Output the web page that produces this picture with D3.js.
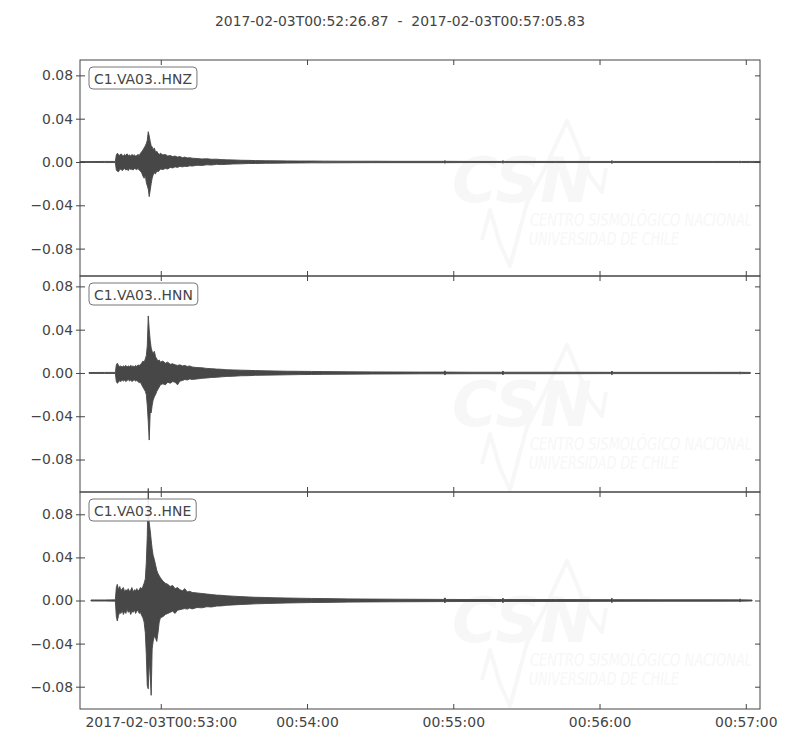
<!DOCTYPE html>
<html><head><meta charset="utf-8">
<script src="https://cdn.jsdelivr.net/npm/d3@7"></script>
<style>body{margin:0;background:#fff} svg{display:block}</style>
</head><body><svg id="c" width="800" height="750"></svg>
<script>
// ---------------- data ----------------
const titleText = "2017-02-03T00:52:26.87  -  2017-02-03T00:57:05.83";
const startTime = "2017-02-03T00:52:26.870Z";
const endTime = "2017-02-03T00:57:05.830Z";
const channels = ["C1.VA03..HNZ", "C1.VA03..HNN", "C1.VA03..HNE"];
const yLimits = [[-0.1053, 0.0942], [-0.110, 0.0896], [-0.1007, 0.1007]];
const yTickValues = [-0.08, -0.04, 0, 0.04, 0.08];
const yTickLabels = ["\u22120.08", "\u22120.04", "0.00", "0.04", "0.08"];
const xTickTimes = ["2017-02-03T00:53:00Z", "2017-02-03T00:54:00Z", "2017-02-03T00:55:00Z", "2017-02-03T00:56:00Z", "2017-02-03T00:57:00Z"];
const xTickLabels = ["2017-02-03T00:53:00", "00:54:00", "00:55:00", "00:56:00", "00:57:00"];

// seconds after 00:52:26.87 at which the envelope of each trace was read
const tSec = [0, 3.7, 4.5, 10, 14.5, 14.9, 15.3, 15.8, 16.3, 16.8, 17.3, 17.8, 18.3, 18.8, 19.3, 19.8, 20.3, 20.8, 21.3, 21.8,
  22.3, 22.8, 23.3, 23.8, 24.3, 24.8, 25.3, 25.8, 26.3, 26.8, 27.2, 27.6, 28.0, 28.4, 28.8, 29.2, 29.6, 30.0, 30.5, 31.0,
  31.5, 32.0, 32.5, 33.0, 34, 35, 36, 37, 38, 39, 40, 41, 42, 43, 44, 45, 46, 48, 50, 52,
  54, 56, 58, 60, 63, 66, 69, 72, 76, 80, 85, 90, 95, 100, 110, 120, 130, 140, 149.2, 149.7,
  150.2, 160, 173.0, 173.5, 174.0, 195, 217.7, 218.2, 218.7, 240, 260, 270.3, 270.8, 271.3, 275, 275.7, 279];

// HNZ envelope (upper / lower)
const hnzMax = [0.0004, 0.0004, 0.0004, 0.0005, 0.0005, 0.0065, 0.0080, 0.0070, 0.0060, 0.0075, 0.0065, 0.0055, 0.0070, 0.0060, 0.0075, 0.0060, 0.0065, 0.0055, 0.0070, 0.0060,
  0.0065, 0.0055, 0.0060, 0.0070, 0.0060, 0.0080, 0.0095, 0.0110, 0.0130, 0.0150, 0.0170, 0.0200, 0.0280, 0.0240, 0.0190, 0.0150, 0.0140, 0.0110, 0.0130, 0.0090,
  0.0100, 0.0080, 0.0070, 0.0080, 0.0065, 0.0070, 0.0055, 0.0060, 0.0050, 0.0055, 0.0045, 0.0050, 0.0040, 0.0045, 0.0038, 0.0040, 0.0035, 0.0032, 0.0028, 0.0030,
  0.0025, 0.0026, 0.0022, 0.0020, 0.0019, 0.0016, 0.0015, 0.0013, 0.0012, 0.0011, 0.0010, 0.0009, 0.0009, 0.0008, 0.0007, 0.0007, 0.0006, 0.0006, 0.0006, 0.0012,
  0.0006, 0.0005, 0.0005, 0.0012, 0.0005, 0.0005, 0.0005, 0.0012, 0.0005, 0.0005, 0.0005, 0.0005, 0.0006, 0.0005, 0.0005, 0.0005, 0.0005];
const hnzMin = [-0.0004, -0.0004, -0.0004, -0.0005, -0.0005, -0.0075, -0.0085, -0.0090, -0.0070, -0.0065, -0.0080, -0.0070, -0.0060, -0.0075, -0.0065, -0.0080, -0.0060, -0.0070, -0.0065, -0.0075,
  -0.0060, -0.0065, -0.0070, -0.0060, -0.0075, -0.0085, -0.0100, -0.0130, -0.0150, -0.0120, -0.0190, -0.0220, -0.0250, -0.0320, -0.0260, -0.0200, -0.0150, -0.0120, -0.0100, -0.0110,
  -0.0080, -0.0090, -0.0080, -0.0065, -0.0070, -0.0060, -0.0065, -0.0050, -0.0055, -0.0045, -0.0050, -0.0040, -0.0045, -0.0040, -0.0042, -0.0035, -0.0038, -0.0030, -0.0032, -0.0026,
  -0.0028, -0.0022, -0.0024, -0.0022, -0.0018, -0.0017, -0.0014, -0.0014, -0.0012, -0.0011, -0.0010, -0.0009, -0.0008, -0.0008, -0.0007, -0.0006, -0.0006, -0.0006, -0.0006, -0.0010,
  -0.0006, -0.0005, -0.0005, -0.0010, -0.0005, -0.0005, -0.0005, -0.0012, -0.0005, -0.0005, -0.0005, -0.0005, -0.0006, -0.0005, -0.0005, -0.0005, -0.0005];

// HNN envelope
const hnnMax = [null, 0.0004, 0.0004, 0.0005, 0.0005, 0.0075, 0.0090, 0.0070, 0.0060, 0.0065, 0.0055, 0.0065, 0.0060, 0.0070, 0.0055, 0.0065, 0.0060, 0.0070, 0.0060, 0.0065,
  0.0055, 0.0070, 0.0060, 0.0075, 0.0065, 0.0080, 0.0090, 0.0110, 0.0100, 0.0130, 0.0160, 0.0250, 0.0527, 0.0400, 0.0300, 0.0230, 0.0200, 0.0180, 0.0200, 0.0150,
  0.0130, 0.0110, 0.0120, 0.0100, 0.0110, 0.0090, 0.0100, 0.0080, 0.0085, 0.0075, 0.0070, 0.0075, 0.0065, 0.0070, 0.0060, 0.0065, 0.0055, 0.0050, 0.0048, 0.0042,
  0.0040, 0.0036, 0.0034, 0.0030, 0.0028, 0.0026, 0.0024, 0.0022, 0.0020, 0.0018, 0.0016, 0.0015, 0.0014, 0.0013, 0.0011, 0.0010, 0.0009, 0.0008, 0.0008, 0.0020,
  0.0008, 0.0007, 0.0007, 0.0018, 0.0007, 0.0007, 0.0006, 0.0018, 0.0006, 0.0006, 0.0006, 0.0006, 0.0008, 0.0006, 0.0005, null, null];
const hnnMin = [null, -0.0004, -0.0004, -0.0005, -0.0005, -0.0080, -0.0095, -0.0085, -0.0070, -0.0080, -0.0065, -0.0075, -0.0065, -0.0080, -0.0070, -0.0060, -0.0075, -0.0065, -0.0080, -0.0070,
  -0.0065, -0.0075, -0.0070, -0.0080, -0.0090, -0.0085, -0.0110, -0.0130, -0.0150, -0.0170, -0.0200, -0.0300, -0.0450, -0.0620, -0.0360, -0.0370, -0.0300, -0.0250, -0.0220, -0.0200,
  -0.0170, -0.0150, -0.0130, -0.0110, -0.0100, -0.0110, -0.0085, -0.0095, -0.0080, -0.0085, -0.0110, -0.0075, -0.0070, -0.0060, -0.0065, -0.0055, -0.0060, -0.0055, -0.0050, -0.0046,
  -0.0042, -0.0040, -0.0036, -0.0032, -0.0030, -0.0026, -0.0025, -0.0022, -0.0020, -0.0019, -0.0017, -0.0015, -0.0014, -0.0013, -0.0011, -0.0010, -0.0009, -0.0008, -0.0008, -0.0018,
  -0.0008, -0.0007, -0.0007, -0.0016, -0.0007, -0.0007, -0.0006, -0.0016, -0.0006, -0.0006, -0.0006, -0.0006, -0.0008, -0.0006, -0.0005, null, null];

// HNE envelope
const hneMax = [null, null, 0.0005, 0.0005, 0.0006, 0.0120, 0.0150, 0.0100, 0.0130, 0.0090, 0.0110, 0.0120, 0.0080, 0.0100, 0.0090, 0.0110, 0.0085, 0.0095, 0.0120, 0.0080,
  0.0100, 0.0090, 0.0110, 0.0085, 0.0100, 0.0120, 0.0110, 0.0130, 0.0160, 0.0200, 0.0350, 0.0600, 0.1040, 0.0720, 0.0650, 0.0560, 0.0480, 0.0420, 0.0380, 0.0330,
  0.0280, 0.0250, 0.0230, 0.0210, 0.0180, 0.0160, 0.0150, 0.0130, 0.0140, 0.0110, 0.0120, 0.0100, 0.0090, 0.0110, 0.0080, 0.0085, 0.0075, 0.0070, 0.0065, 0.0060,
  0.0055, 0.0050, 0.0048, 0.0044, 0.0040, 0.0036, 0.0033, 0.0030, 0.0028, 0.0025, 0.0023, 0.0021, 0.0019, 0.0018, 0.0015, 0.0013, 0.0012, 0.0011, 0.0010, 0.0025,
  0.0010, 0.0009, 0.0009, 0.0022, 0.0009, 0.0009, 0.0008, 0.0022, 0.0008, 0.0007, 0.0007, 0.0006, 0.0014, 0.0006, 0.0005, 0.0005, null];
const hneMin = [null, null, -0.0005, -0.0005, -0.0006, -0.0150, -0.0190, -0.0140, -0.0110, -0.0120, -0.0090, -0.0130, -0.0100, -0.0120, -0.0080, -0.0110, -0.0095, -0.0130, -0.0100, -0.0110,
  -0.0085, -0.0120, -0.0100, -0.0090, -0.0120, -0.0110, -0.0140, -0.0160, -0.0200, -0.0300, -0.0500, -0.0790, -0.0820, -0.0550, -0.0700, -0.0880, -0.0450, -0.0380, -0.0330, -0.0350,
  -0.0380, -0.0300, -0.0200, -0.0160, -0.0150, -0.0130, -0.0120, -0.0110, -0.0100, -0.0120, -0.0090, -0.0085, -0.0080, -0.0075, -0.0080, -0.0070, -0.0078, -0.0065, -0.0068, -0.0058,
  -0.0060, -0.0052, -0.0050, -0.0045, -0.0041, -0.0037, -0.0034, -0.0031, -0.0028, -0.0026, -0.0023, -0.0021, -0.0019, -0.0018, -0.0015, -0.0013, -0.0012, -0.0011, -0.0010, -0.0022,
  -0.0010, -0.0009, -0.0009, -0.0020, -0.0009, -0.0009, -0.0008, -0.0020, -0.0008, -0.0007, -0.0007, -0.0006, -0.0012, -0.0006, -0.0005, -0.0005, null];

const traceMax = [hnzMax, hnnMax, hneMax];
const traceMin = [hnzMin, hnnMin, hneMin];

// ---------------- layout ----------------
const INK = "#444444";
const WAVE = "#474747";
const MARK = "#f7f7f7";
const FONT = "'DejaVu Sans', sans-serif";
const left = 80, right = 760;
const panelTop = [60, 276, 492];
const panelBottom = [276, 492, 709];

const svg = d3.select("#c");
const t0 = new Date(startTime);
const x = d3.scaleUtc().domain([t0, new Date(endTime)]).range([left, right]);
const timeOf = s => new Date(t0.getTime() + s * 1000);
const xTicks = xTickTimes.map(s => new Date(s));

svg.append("text")
  .attr("x", 400).attr("y", 26)
  .attr("text-anchor", "middle")
  .style("white-space", "pre")
  .attr("font-family", FONT).attr("font-size", "13.9px").attr("fill", INK)
  .text(titleText);

channels.forEach((name, i) => {
  const top = panelTop[i], bottom = panelBottom[i];
  const y = d3.scaleLinear().domain(yLimits[i]).range([bottom, top]);
  const g = svg.append("g");

  // very faint watermark (background image of the original)
  const wm = g.append("g").attr("transform", `translate(0,${top + (i === 0 ? -4 : 4)})`);
  wm.append("path")
    .attr("d", "M482,184 L490,154 L500,188 L510,210 L527,147 L545,112 L567,65 L590,120 L602,136 L606,112")
    .attr("fill", "none").attr("stroke", MARK).attr("stroke-width", 4).attr("stroke-linejoin", "round");
  wm.append("text").attr("x", 452).attr("y", 146)
    .attr("font-family", FONT).attr("font-style", "italic").attr("font-weight", "bold")
    .attr("font-size", "62px").attr("fill", MARK).text("CSN");
  wm.append("text").attr("x", 530).attr("y", 170)
    .attr("font-family", "'Liberation Sans Narrow', 'DejaVu Sans Condensed', sans-serif").attr("font-style", "italic")
    .attr("font-size", "17px").attr("fill", MARK)
    .attr("textLength", 222).attr("lengthAdjust", "spacingAndGlyphs")
    .text("CENTRO SISMOLÓGICO NACIONAL");
  wm.append("text").attr("x", 529).attr("y", 189)
    .attr("font-family", "'Liberation Sans Narrow', 'DejaVu Sans Condensed', sans-serif").attr("font-style", "italic")
    .attr("font-size", "17px").attr("fill", MARK)
    .attr("textLength", 150).attr("lengthAdjust", "spacingAndGlyphs")
    .text("UNIVERSIDAD DE CHILE");

  // waveform envelope
  const pts = tSec.map((s, k) => ({ time: timeOf(s), hi: traceMax[i][k], lo: traceMin[i][k] }));
  const area = d3.area()
    .defined(d => d.hi != null && d.lo != null)
    .x(d => x(d.time)).y0(d => y(d.lo)).y1(d => y(d.hi));
  g.append("path").attr("d", area(pts))
    .attr("fill", WAVE).attr("stroke", WAVE).attr("stroke-width", 0.9).attr("stroke-linejoin", "round");

  // frame
  g.append("rect").attr("x", left).attr("y", top).attr("width", right - left).attr("height", bottom - top)
    .attr("fill", "none").attr("stroke", INK).attr("stroke-width", 1);

  // y axis: labels + outward ticks on the left, inward ticks left and right
  const yAxis = g.append("g").attr("transform", `translate(${left},0)`)
    .call(d3.axisLeft(y).tickValues(yTickValues).tickFormat((d, k) => yTickLabels[k]).tickSize(4).tickPadding(3));
  yAxis.select(".domain").remove();
  yAxis.selectAll("line").attr("stroke", INK);
  yAxis.selectAll("text").attr("font-family", FONT).attr("font-size", "13.9px").attr("fill", INK);
  const yIn = g.append("g").attr("transform", `translate(${left},0)`)
    .call(d3.axisRight(y).tickValues(yTickValues).tickFormat("").tickSize(5));
  const yInR = g.append("g").attr("transform", `translate(${right},0)`)
    .call(d3.axisLeft(y).tickValues(yTickValues).tickFormat("").tickSize(5));
  [yIn, yInR].forEach(a => { a.select(".domain").remove(); a.selectAll("line").attr("stroke", INK); });

  // x ticks inward on top and bottom of each panel
  const xTop = g.append("g").attr("transform", `translate(0,${top})`)
    .call(d3.axisBottom(x).tickValues(xTicks).tickFormat("").tickSize(5));
  const xBot = g.append("g").attr("transform", `translate(0,${bottom})`)
    .call(d3.axisTop(x).tickValues(xTicks).tickFormat("").tickSize(5));
  [xTop, xBot].forEach(a => { a.select(".domain").remove(); a.selectAll("line").attr("stroke", INK); });

  if (i === channels.length - 1) {
    const xAx = g.append("g").attr("transform", `translate(0,${bottom})`)
      .call(d3.axisBottom(x).tickValues(xTicks).tickFormat((d, k) => xTickLabels[k]).tickSize(0).tickPadding(8));
    xAx.select(".domain").remove();
    xAx.selectAll("text").attr("font-family", FONT).attr("font-size", "13.9px").attr("fill", INK);
  }

  // channel label box
  const lbl = g.append("g");
  const txt = lbl.append("text").attr("x", 94).attr("y", top + 24)
    .attr("font-family", FONT).attr("font-size", "13.9px").attr("fill", INK).text(name);
  const bb = txt.node().getBBox();
  lbl.insert("rect", "text")
    .attr("x", bb.x - 5).attr("y", top + 7)
    .attr("width", bb.width + 10).attr("height", 22)
    .attr("rx", 4).attr("ry", 4)
    .attr("fill", "#fff").attr("fill-opacity", 0.9)
    .attr("stroke", "#777").attr("stroke-width", 1);
});
</script>
</body></html>
